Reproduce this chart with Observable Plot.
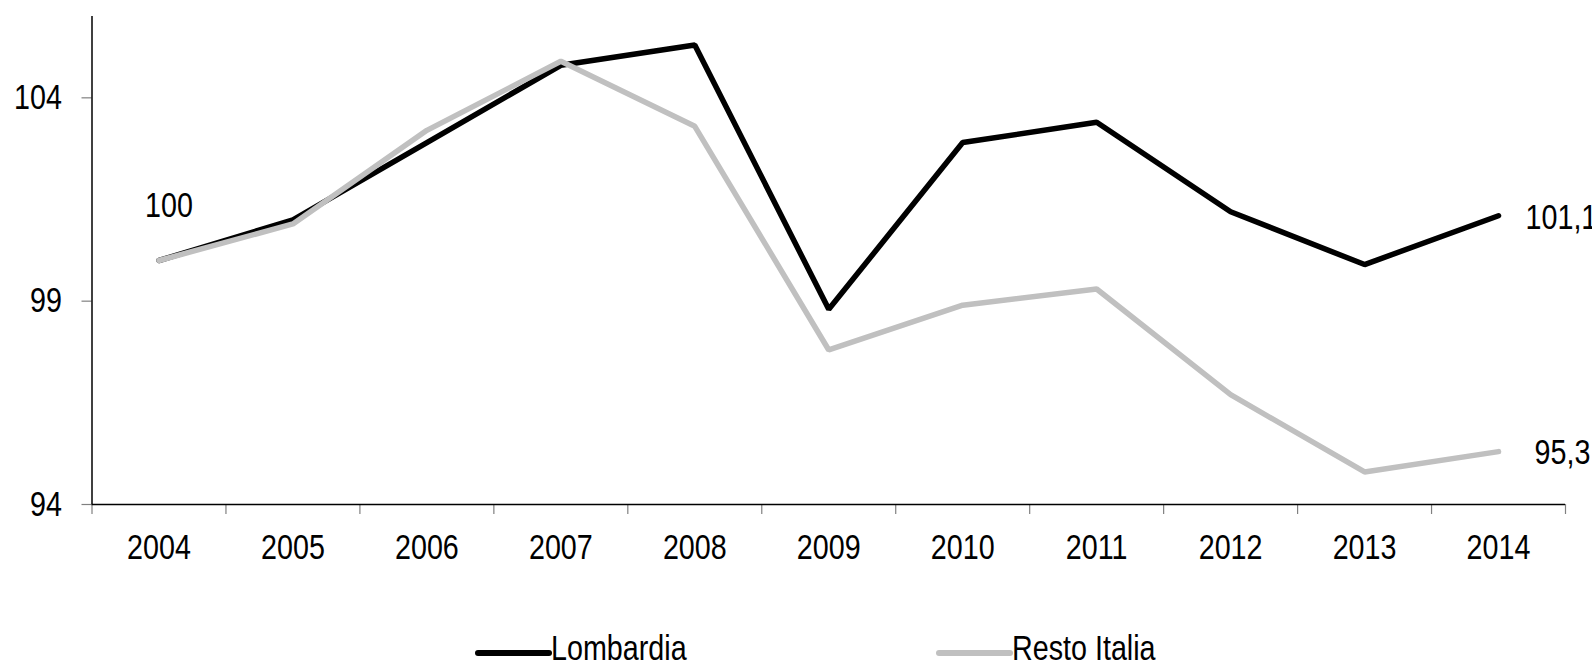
<!DOCTYPE html>
<html>
<head>
<meta charset="utf-8">
<script src="https://cdn.jsdelivr.net/npm/d3@7"></script>
<script src="https://cdn.jsdelivr.net/npm/@observablehq/plot@0.6"></script>
<style>
  html, body { margin: 0; padding: 0; background: #ffffff; }
  body { width: 1592px; height: 666px; overflow: hidden; font-family: "Liberation Sans", Arial, sans-serif; }
  #chart svg { display: block; overflow: visible; }
  #legend { display: block; }
</style>
</head>
<body>
<div id="chart"></div>
<svg id="legend" width="1592" height="66"></svg>
<script>
// ---- Data ----
const years = [2004, 2005, 2006, 2007, 2008, 2009, 2010, 2011, 2012, 2013, 2014];
const lombardia   = [100, 101.0, 102.9, 104.8, 105.3, 98.8, 102.9, 103.4, 101.2, 99.9, 101.1];
const restoItalia = [100, 100.9, 103.2, 104.9, 103.3, 97.8, 98.9, 99.3, 96.7, 94.8, 95.3];
const seriesNames  = ["Lombardia", "Resto Italia"];
const seriesColors = ["#000000", "#c0c0c0"];
const yTicks = [94, 99, 104];
const yDomain = [94, 106];

// ---- Build table ----
const seriesValues = [lombardia, restoItalia];
const rows = [];
seriesNames.forEach((name, si) => {
  years.forEach((yr, i) => rows.push({series: name, year: yr, value: seriesValues[si][i]}));
});
const fmt = v => String(v).replace(".", ",");

const startLabel = [{year: years[0], value: lombardia[0], text: fmt(lombardia[0])}];
const endLabels = seriesNames.map((name, si) => ({
  series: name,
  year: years[years.length - 1],
  value: seriesValues[si][years.length - 1],
  text: fmt(seriesValues[si][years.length - 1])
}));

const bounds = years.map(y => y - 0.5).concat([years[years.length - 1] + 0.5]);
const FONT = "\"Liberation Sans\", Arial, sans-serif";
const FS = 35;          // font size
const NARROW = 0.82;    // horizontal condensing (Arial Narrow look)

const chart = Plot.plot({
  width: 1592,
  height: 600,
  marginLeft: 91.5,
  marginRight: 27,
  marginTop: 16,
  marginBottom: 96,
  style: {fontFamily: FONT, fontSize: FS + "px", color: "#000", background: "#fff", overflow: "visible"},
  x: {domain: [bounds[0], bounds[bounds.length - 1]]},
  y: {domain: yDomain},
  color: {domain: seriesNames, range: seriesColors},
  marks: [
    // x-axis boundary ticks
    Plot.axisX({ticks: bounds, tickSize: 10, tickFormat: () => "", stroke: "#808080", strokeWidth: 1.2, label: null}),
    // x-axis year labels
    Plot.axisX({ticks: years, tickSize: 0, tickPadding: 30, tickFormat: d => String(d), fontSize: FS, label: null}),
    // y-axis
    Plot.axisY({ticks: yTicks, tickSize: 10, tickPadding: 20, tickFormat: d => String(d), stroke: "#808080", strokeWidth: 1.2, fontSize: FS, label: null}),
    Plot.ruleX([bounds[0]], {stroke: "#000", strokeWidth: 1.5}),
    Plot.ruleY([yDomain[0]], {stroke: "#000", strokeWidth: 1.5}),
    // lines
    Plot.line(rows, {
      x: "year", y: "value", z: "series", stroke: "series",
      strokeWidth: 5.5, strokeLinecap: "round", strokeLinejoin: "miter"
    }),
    // labels
    Plot.text(startLabel, {x: "year", y: "value", text: "text", dx: 10, dy: -55, fontSize: FS, fill: "#000"}),
    Plot.text(endLabels.slice(0, 1), {x: "year", y: "value", text: "text", textAnchor: "start", dx: 27, dy: 2, fontSize: FS, fill: "#000"}),
    Plot.text(endLabels.slice(1), {x: "year", y: "value", text: "text", textAnchor: "start", dx: 36, dy: 1, fontSize: FS, fill: "#000"})
  ]
});
document.getElementById("chart").appendChild(chart);

// condense every text horizontally about its own anchor point
// (Plot positions texts with a translate() transform; the y attribute holds an em offset only)
function condense(root) {
  d3.select(root).selectAll("text").each(function () {
    const el = d3.select(this);
    const t = el.attr("transform") || "";
    el.attr("transform", (t + ` scale(${NARROW},1)`).trim());
  });
}
condense(chart);

// ---- Legend ----
const legend = d3.select("#legend");
const legendX = [476, 937];
seriesNames.forEach((name, i) => {
  const g = legend.append("g").attr("transform", `translate(${legendX[i]},0)`);
  g.append("line").attr("x1", 2).attr("x2", 73).attr("y1", 53).attr("y2", 53)
    .attr("stroke", seriesColors[i]).attr("stroke-width", 6).attr("stroke-linecap", "round");
  g.append("text").attr("transform", "translate(75,60)").attr("font-size", FS)
    .attr("font-family", FONT).attr("fill", "#000").text(name);
});
condense(document.getElementById("legend"));
</script>
</body>
</html>
